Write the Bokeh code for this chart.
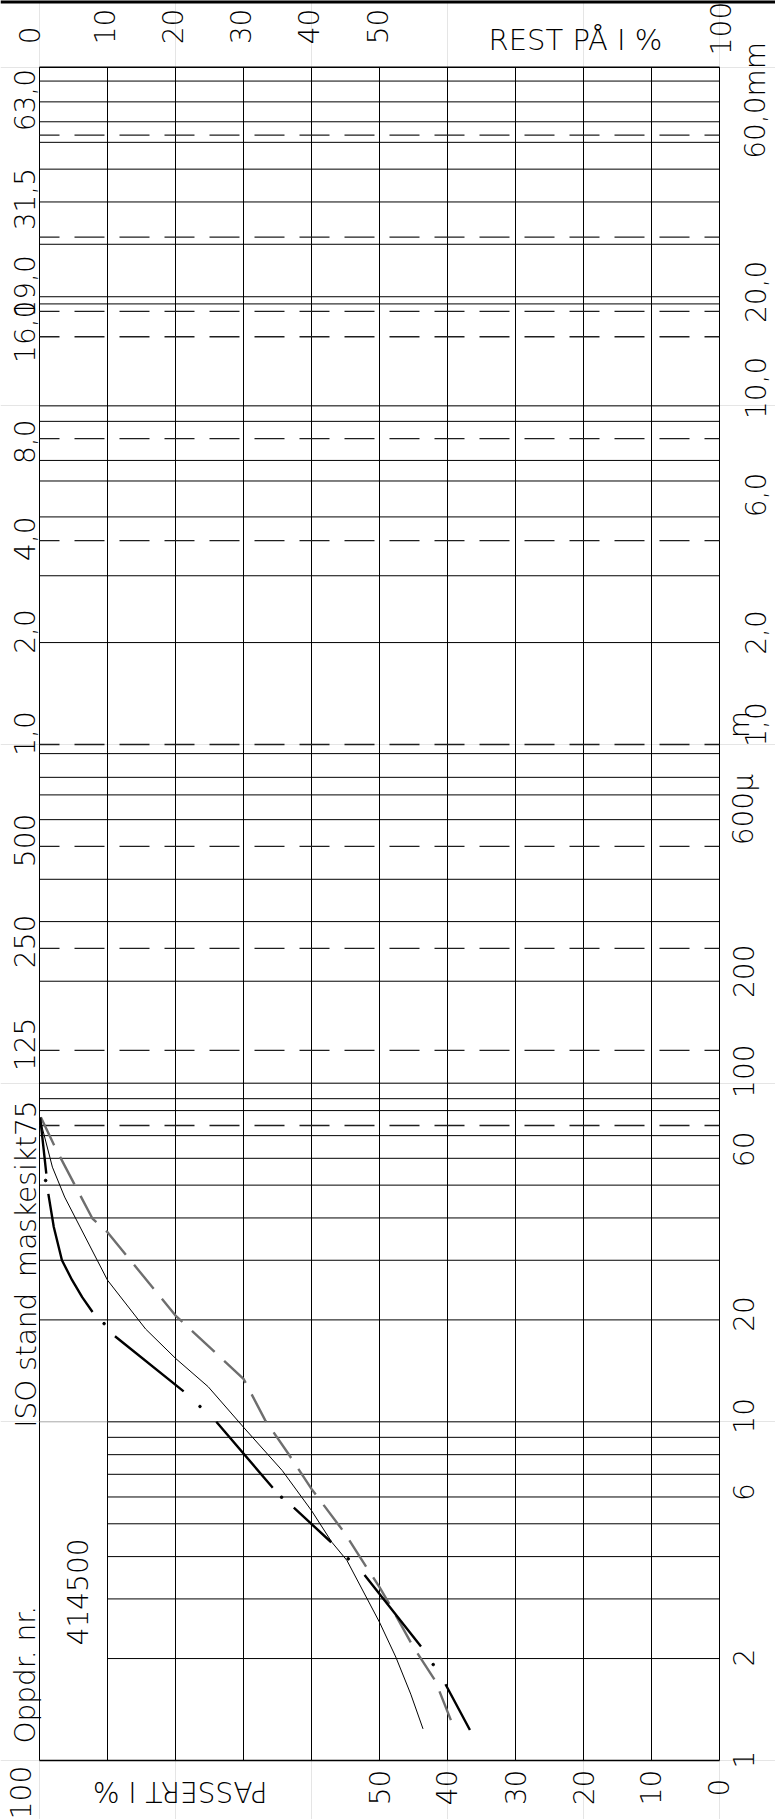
import math
from bokeh.plotting import figure
from bokeh.models import Range1d, ColumnDataSource
from bokeh.core.properties import value
from bokeh.embed import file_html
from bokeh.resources import INLINE

NaN = float("nan")

# ---------------------------------------------------------------- data
# percent passing at the vertical rules (100 % at the left edge)
pct_rules = [100, 90, 80, 70, 60, 50, 40, 30, 20, 10, 0]
rest_ticks = [0, 10, 20, 30, 40, 50, 100]
pass_ticks = [100, 50, 40, 30, 20, 10, 0]

# grain size span of the sheet, mm
d_min, d_max = 0.001, 100.0

# solid horizontal rules over the full width, mm
rule_sizes = [91, 79, 69, 60, 50, 40, 30, 21, 20, 10, 9, 6.9, 6, 4.7, 3.15, 2,
              0.94, 0.8, 0.71, 0.6, 0.4, 0.3, 0.2, 0.1, 0.09, 0.083, 0.07,
              0.06, 0.05, 0.04, 0.03, 0.02]
# 10 um limit, and the finer rules that start at 90 %
silt_limit = 0.01
fine_sizes = [0.009, 0.008, 0.007, 0.006, 0.005, 0.004, 0.003, 0.002]

# ISO sieve openings, mm (dashed rules)
sieve_sizes = [63, 31.5, 19, 16, 8, 4, 1, 0.5, 0.25, 0.125, 0.075]
sieve_label_sizes = [63, 31.5, 19, 16, 8, 4, 2, 1, 0.5, 0.25, 0.125]
sieve_labels = ["63,0", "31,5", "19,0", "16,0", "8,0", "4,0", "2,0", "1,0",
                "500", "250", "125"]

# fraction limits on the right-hand side
um_label_sizes = [0.001, 0.002, 0.006, 0.01, 0.02, 0.06, 0.1, 0.2, 0.6]
um_labels = ["1", "2", "6", "10", "20", "60", "100", "200", "600µ"]
mm_label_sizes = [1, 2, 6, 10, 20, 60]
mm_labels = ["1,0", "2,0", "6,0", "10,0", "20,0", "60,0mm"]

# curve A: thin solid
a_pass = [99.9, 98.1, 96.3, 90.0, 84.4, 80.0, 75.2, 70.0, 64.3, 60.0, 57.0,
          54.8, 50.0, 47.6, 45.4, 43.6]
a_size = [0.0780, 0.0565, 0.0461, 0.0262, 0.0188, 0.0154, 0.0127, 0.00964,
          0.00718, 0.00547, 0.00441, 0.00390, 0.00256, 0.00202, 0.00157,
          0.00124]

# curve B: grey dashed
b_pass = [99.8, 97.6, 92.2, 90.0, 80.0, 70.0, 66.8, 63.4, 60.0, 55.2, 51.6,
          50.0, 48.3, 45.0, 41.8, 39.2]
b_size = [0.0793, 0.0640, 0.0398, 0.0363, 0.0206, 0.0134, 0.0101, 0.00805,
          0.00634, 0.00472, 0.00364, 0.00325, 0.00284, 0.00216, 0.00172,
          0.00127]

# curve C: heavy dash-dot, dashes separated by NaN, dots listed apart
c_pass = [99.9, 99.0, NaN, 98.7, 97.9, 96.7, 95.2, 93.7, 92.2, NaN, 88.9,
          78.8, NaN, 74.0, 65.7, NaN, 62.6, 57.1, NaN, 52.2, 43.9, NaN,
          40.3, 36.7]
c_size = [0.0793, 0.0541, NaN, 0.0471, 0.0376, 0.0300, 0.0262, 0.0233,
          0.0211, NaN, 0.0179, 0.0123, NaN, 0.0100, 0.00639, NaN, 0.00558,
          0.00441, NaN, 0.00353, 0.00217, NaN, 0.00168, 0.00123]
c_dot_pass = [99.1, 90.5, 76.4, 64.4, 54.6, 42.1]
c_dot_size = [0.0516, 0.0195, 0.0111, 0.00599, 0.00394, 0.00192]

# ---------------------------------------------------------------- layout
W, H = 775, 1819
X_LEFT, X_RIGHT = 39.0, 719.0        # canvas px of 100 % and 0 %
Y_BOTTOM, Y_TOP = 1760.0, 66.7       # canvas px of d_min and d_max
px_pct = (X_RIGHT - X_LEFT) / 100.0
px_dec = (Y_BOTTOM - Y_TOP) / math.log10(d_max / d_min)

x_start = 100 + X_LEFT / px_pct
x_end = 100 - (W - X_LEFT) / px_pct
y_start = 10 ** (math.log10(d_min) - (H - Y_BOTTOM) / px_dec)
y_end = 10 ** (math.log10(d_max) + Y_TOP / px_dec)

INK = "black"
FONT = value("'DejaVu Sans Light', 'Lato Light', Lato, sans-serif")
NUM = "28px"

p = figure(width=W, height=H,
           x_range=Range1d(x_start, x_end), y_range=Range1d(y_start, y_end),
           y_axis_type="log", x_axis_location=None, y_axis_location=None,
           toolbar_location=None, output_backend="svg", min_border=0)
p.outline_line_color = None
p.background_fill_color = "white"
p.border_fill_color = "white"

# sheet edge at the very top
p.segment(x0=[x_start], y0=[y_end], x1=[x_end], y1=[y_end],
          line_color=INK, line_width=6)

# vertical rules
n = len(pct_rules)
p.segment(x0=pct_rules, y0=[d_min] * n, x1=pct_rules, y1=[d_max] * n,
          line_color=INK, line_width=1)

# frame top and bottom
p.segment(x0=[100, 100], y0=[d_min, d_max], x1=[0, 0], y1=[d_min, d_max],
          line_color=INK, line_width=1.4)

# solid grain-size rules
m = len(rule_sizes)
p.segment(x0=[100] * m, y0=rule_sizes, x1=[0] * m, y1=rule_sizes,
          line_color=INK, line_width=1)
p.segment(x0=[100], y0=[silt_limit], x1=[90], y1=[silt_limit],
          line_color="#b0b0b0", line_width=1)
f = len(fine_sizes) + 1
p.segment(x0=[90] * f, y0=fine_sizes + [silt_limit], x1=[0] * f,
          y1=fine_sizes + [silt_limit], line_color=INK, line_width=1)

# dashed sieve rules
s = len(sieve_sizes)
p.segment(x0=[100] * s, y0=sieve_sizes, x1=[0] * s, y1=sieve_sizes,
          line_color="#1e1e1e", line_width=1.3, line_dash="30 15",
          line_dash_offset=10)

# grading curves
p.line(b_pass, b_size, line_color="#6e6e6e", line_width=2.4,
       line_dash="31 13")
p.line(a_pass, a_size, line_color=INK, line_width=1)
p.line(c_pass, c_size, line_color=INK, line_width=2.4)
p.scatter(c_dot_pass, c_dot_size, size=2.6, color=INK)


def add_text(xs, ys, texts, xo, yo, angle=0.0, align="center", size=NUM):
    k = len(texts)
    xo = xo if isinstance(xo, list) else [xo] * k
    yo = yo if isinstance(yo, list) else [yo] * k
    src = ColumnDataSource(dict(x=xs, y=ys, text=texts, xo=xo, yo=yo))
    p.text(x="x", y="y", text="text", x_offset="xo", y_offset="yo",
           source=src, angle=angle, text_align=align,
           text_baseline="middle", text_font=FONT, text_font_size=size,
           text_color=INK)


UP = math.pi / 2

# rest percent along the top
add_text([100 - r for r in rest_ticks], [d_max] * len(rest_ticks),
         [str(r) for r in rest_ticks],
         xo=[-10, -3, -3, -3, -3, -2, 1],
         yo=[-23, -23, -23, -23, -23, -23, -12], angle=UP, align="left")
add_text([20], [d_max], ["REST PÅ I %"], xo=-8, yo=-27, size="29px")

# passing percent along the bottom
add_text(pass_ticks, [d_min] * len(pass_ticks), [str(v) for v in pass_ticks],
         xo=[-19, 0, -1, 0, 0, -1, -1], yo=[32, 27, 27, 27, 27, 27, 27],
         angle=UP)
add_text([70], [d_min], ["PASSERT I %"], xo=24, yo=31, angle=math.pi,
         align="left")

# sieve openings, left margin
add_text([100] * len(sieve_labels), sieve_label_sizes, sieve_labels,
         xo=-15, yo=[-35, -38, -25, -5, 3, -2, -11, -11, -6, -7, -6],
         angle=UP)
add_text([100], [silt_limit], ["ISO stand"], xo=-13, yo=6, angle=UP,
         align="left")
add_text([100], [sieve_sizes[-1]], ["maskesikt75"], xo=-13, yo=-25,
         angle=UP, align="right")
add_text([100], [d_min], ["Oppdr. nr."], xo=-14, yo=-17, angle=UP,
         align="left")
add_text([95], [0.003], ["414500"], xo=4, yo=-7, angle=UP)

# fraction limits, right margin
add_text([0] * len(um_labels), um_label_sizes, um_labels, xo=24,
         yo=[-1, -1, -5, -6, -6, -9, -12, -10, -10], angle=UP)
add_text([0] * len(mm_labels), mm_label_sizes, mm_labels,
         xo=36, yo=[-20, -10, 14, -18, -12, -42], angle=UP)
add_text([0], [1], ["m"], xo=20, yo=-20, angle=UP)

open("out.html", "w").write(file_html(p, INLINE, "Kornfordeling"))
